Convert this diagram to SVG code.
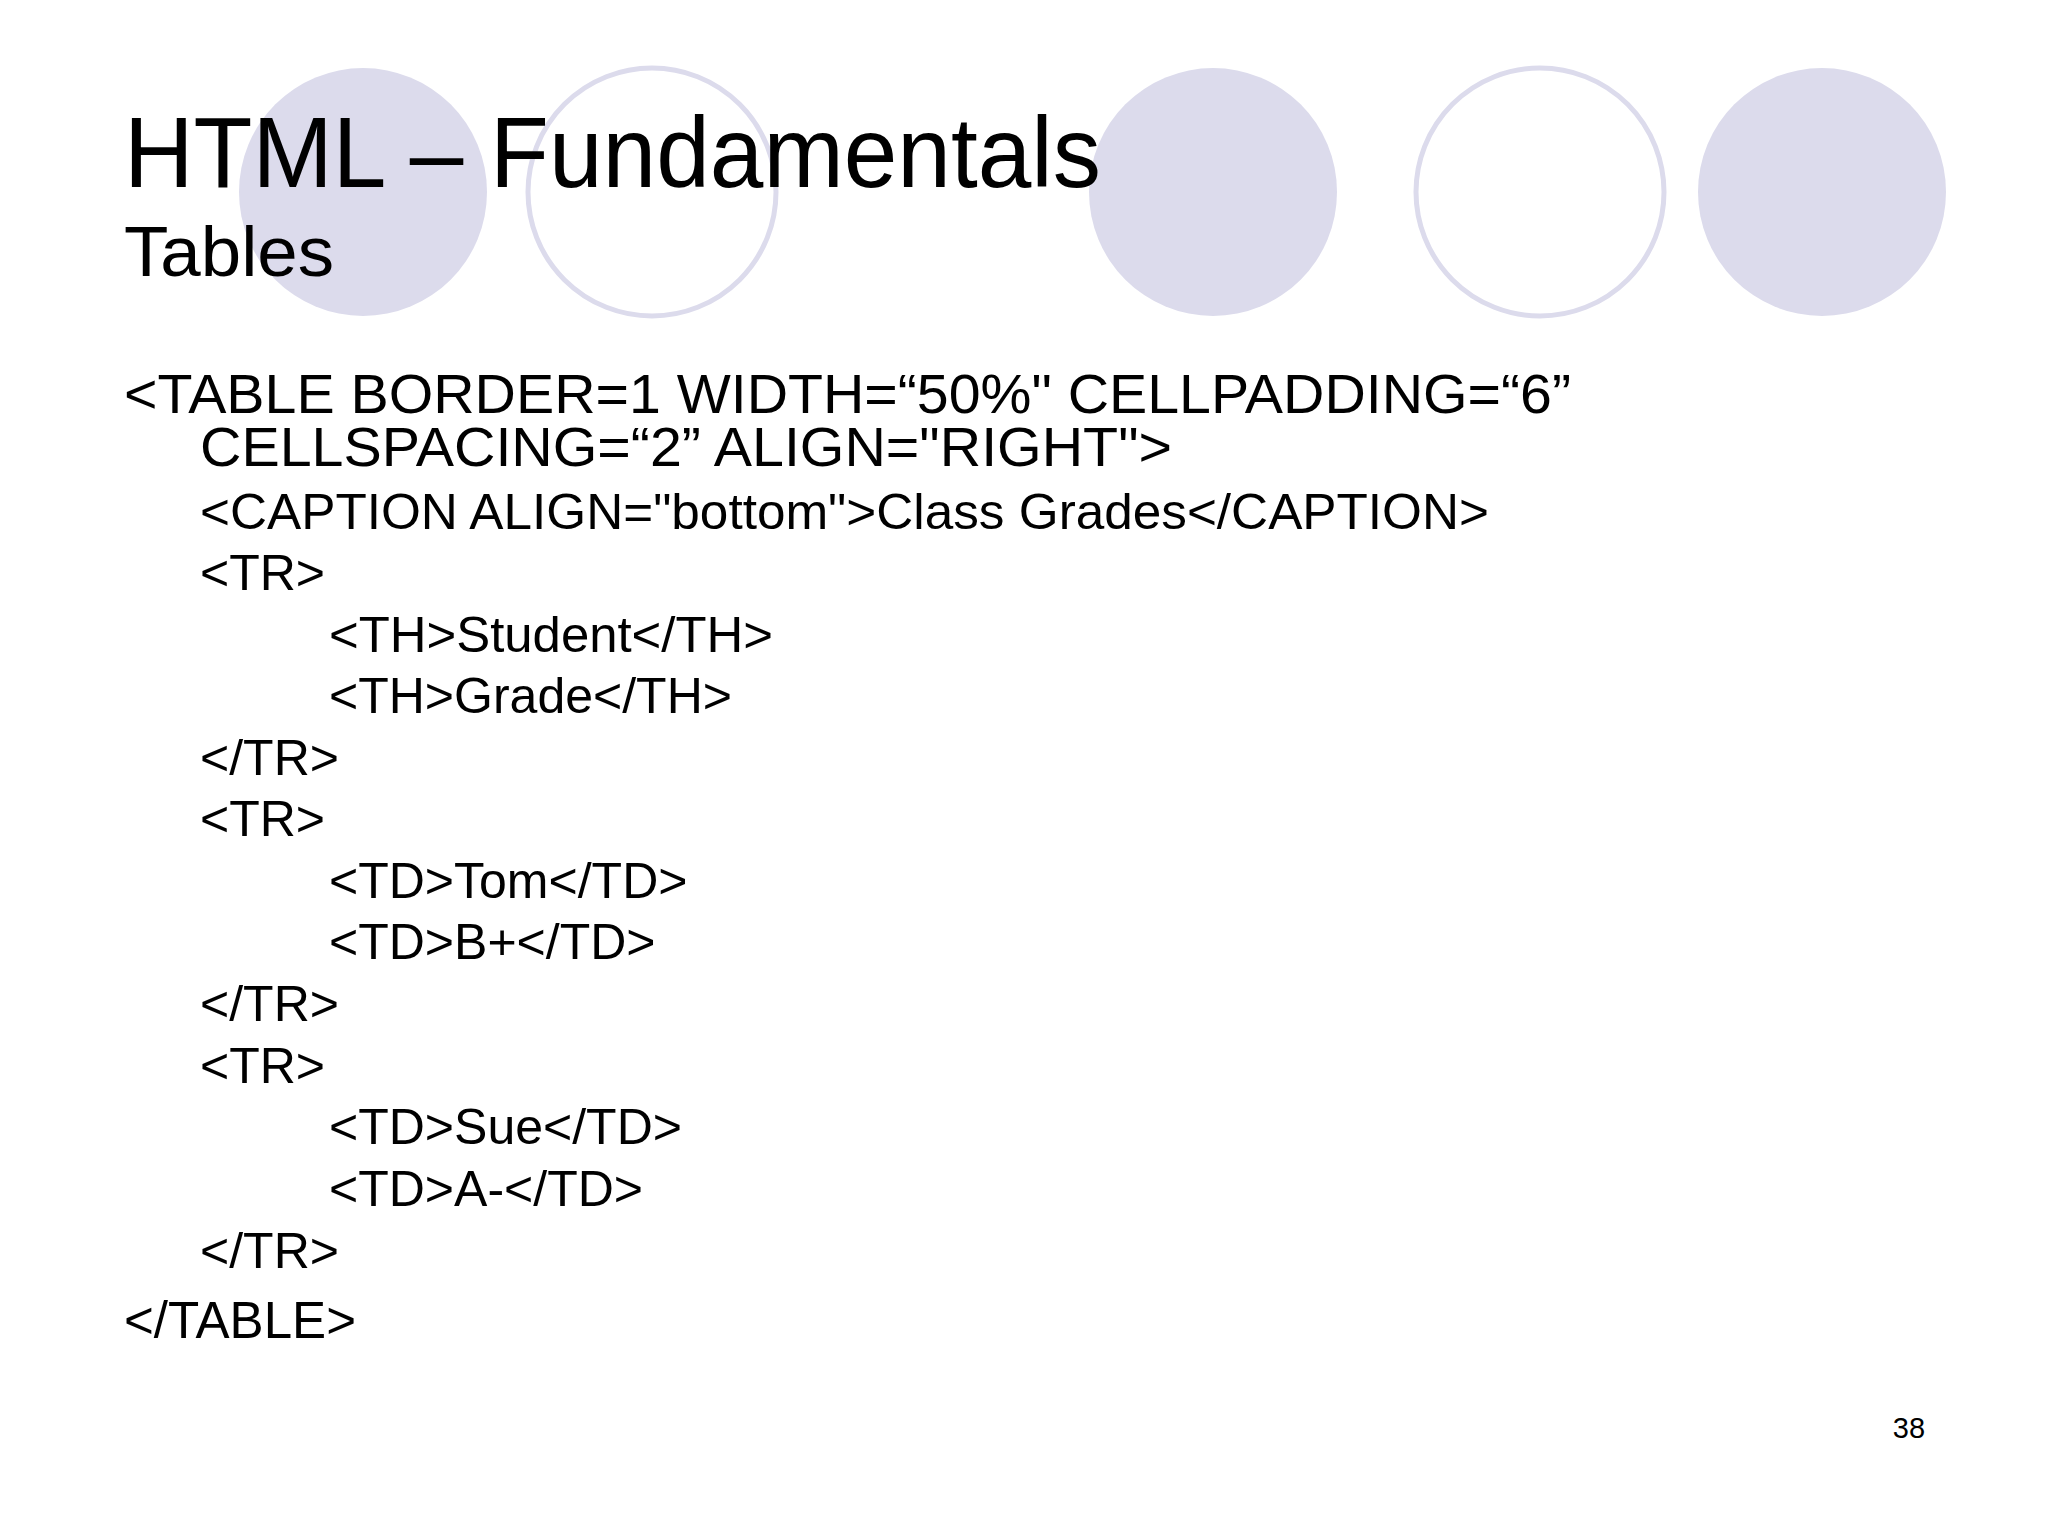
<svg xmlns="http://www.w3.org/2000/svg" width="2048" height="1536" viewBox="0 0 2048 1536">
<style>
.f{fill:#dcdbec}
.o{fill:none;stroke:#dcdbec;stroke-width:5}
text{font-family:"Liberation Sans",Arial,sans-serif;fill:#000}
.c1{font-size:55px}
.c2{font-size:50px}
</style>
<rect width="2048" height="1536" fill="#fff"/>
<g id="decor">
<circle class="f" cx="363" cy="192" r="124"/>
<circle class="o" cx="652" cy="192" r="124"/>
<circle class="f" cx="1213" cy="192" r="124"/>
<circle class="o" cx="1540" cy="192" r="124"/>
<circle class="f" cx="1822" cy="192" r="124"/>
</g>
<g id="title">
<text x="124" y="187" font-size="100" textLength="977" lengthAdjust="spacingAndGlyphs">HTML – Fundamentals</text>
<text x="124" y="276" font-size="70" textLength="210" lengthAdjust="spacingAndGlyphs">Tables</text>
</g>
<g id="code">
<text class="c1" x="124" y="413" textLength="1447" lengthAdjust="spacingAndGlyphs">&lt;TABLE BORDER=1 WIDTH=“50%" CELLPADDING=“6”</text>
<text class="c1" x="200" y="466" textLength="972" lengthAdjust="spacingAndGlyphs">CELLSPACING=“2” ALIGN="RIGHT"&gt;</text>
<text class="c2" x="200" y="529" textLength="1289" lengthAdjust="spacingAndGlyphs">&lt;CAPTION ALIGN="bottom"&gt;Class Grades&lt;/CAPTION&gt;</text>
<text class="c2" x="200" y="590">&lt;TR&gt;</text>
<text class="c2" x="329" y="652" textLength="444" lengthAdjust="spacingAndGlyphs">&lt;TH&gt;Student&lt;/TH&gt;</text>
<text class="c2" x="329" y="713">&lt;TH&gt;Grade&lt;/TH&gt;</text>
<text class="c2" x="200" y="775">&lt;/TR&gt;</text>
<text class="c2" x="200" y="836">&lt;TR&gt;</text>
<text class="c2" x="329" y="898">&lt;TD&gt;Tom&lt;/TD&gt;</text>
<text class="c2" x="329" y="959">&lt;TD&gt;B+&lt;/TD&gt;</text>
<text class="c2" x="200" y="1021">&lt;/TR&gt;</text>
<text class="c2" x="200" y="1083">&lt;TR&gt;</text>
<text class="c2" x="329" y="1144">&lt;TD&gt;Sue&lt;/TD&gt;</text>
<text class="c2" x="329" y="1206">&lt;TD&gt;A-&lt;/TD&gt;</text>
<text class="c2" x="200" y="1268">&lt;/TR&gt;</text>
<text x="124" y="1338" font-size="52" textLength="232" lengthAdjust="spacingAndGlyphs">&lt;/TABLE&gt;</text>
</g>
<text x="1909" y="1438" font-size="29" text-anchor="middle">38</text>
</svg>
